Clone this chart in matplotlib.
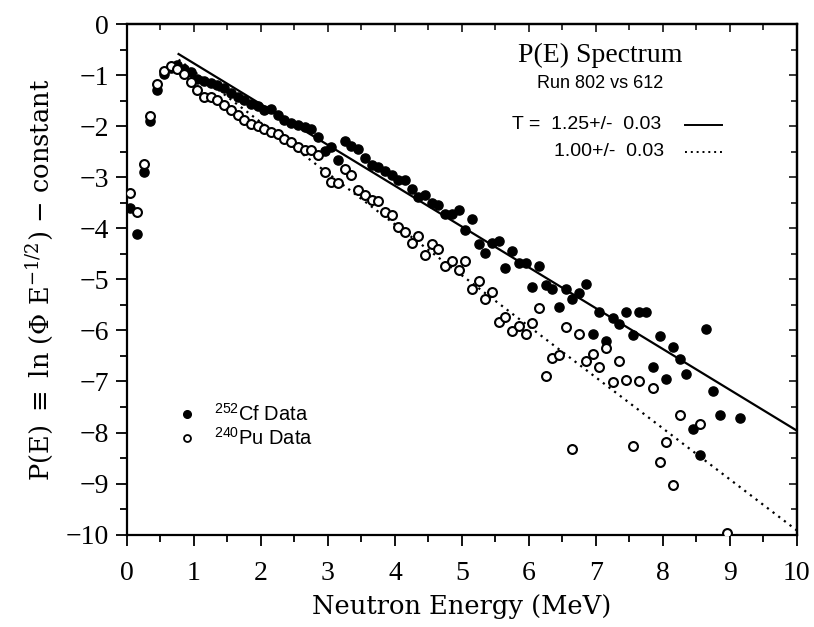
import numpy as np
import matplotlib

matplotlib.use("Agg")
import matplotlib.pyplot as plt
from matplotlib.ticker import MultipleLocator

plt.rcParams["mathtext.default"] = "regular"
plt.rcParams["mathtext.fontset"] = "dejavuserif"

SERIF = "Liberation Serif"
WIDE_SERIF = "DejaVu Serif"
SANS = "Liberation Sans"

# 252Cf data, 0.1 MeV bins
cf_energy = [
    0.05, 0.15, 0.25, 0.35, 0.45, 0.55, 0.65, 0.75, 0.85, 0.95,
    1.05, 1.15, 1.25, 1.35, 1.45, 1.55, 1.65, 1.75, 1.85, 1.95,
    2.05, 2.15, 2.25, 2.35, 2.45, 2.55, 2.65, 2.75, 2.85, 2.95,
    3.05, 3.15, 3.25, 3.35, 3.45, 3.55, 3.65, 3.75, 3.85, 3.95,
    4.05, 4.15, 4.25, 4.35, 4.45, 4.55, 4.65, 4.75, 4.85, 4.95,
    5.05, 5.15, 5.25, 5.35, 5.45, 5.55, 5.65, 5.75, 5.85, 5.95,
    6.05, 6.15, 6.25, 6.35, 6.45, 6.55, 6.65, 6.75, 6.85, 6.95,
    7.05, 7.15, 7.25, 7.35, 7.45, 7.55, 7.65, 7.75, 7.85, 7.95,
    8.05, 8.15, 8.25, 8.35, 8.45, 8.55, 8.65, 8.75, 8.85, 9.15,
]
cf_p = [
    -3.59, -4.11, -2.89, -1.89, -1.28, -0.98, -0.86, -0.80, -0.87, -0.94,
    -1.07, -1.11, -1.14, -1.19, -1.25, -1.35, -1.42, -1.48, -1.55, -1.59,
    -1.68, -1.66, -1.77, -1.87, -1.94, -1.97, -2.02, -2.05, -2.20, -2.49,
    -2.40, -2.66, -2.29, -2.38, -2.44, -2.62, -2.75, -2.79, -2.87, -2.95,
    -3.05, -3.04, -3.23, -3.38, -3.34, -3.51, -3.53, -3.72, -3.72, -3.64,
    -4.03, -3.81, -4.31, -4.49, -4.29, -4.25, -4.78, -4.45, -4.67, -4.67,
    -5.15, -4.73, -5.11, -5.19, -5.53, -5.19, -5.39, -5.26, -5.09, -6.07,
    -5.64, -6.20, -5.75, -5.88, -5.64, -6.08, -5.63, -5.63, -6.72, -6.11,
    -6.95, -6.32, -6.55, -6.85, -7.93, -8.44, -5.97, -7.19, -7.66, -7.72,
]

# 240Pu data
pu_energy = [
    0.05, 0.15, 0.25, 0.35, 0.45, 0.55, 0.65, 0.75, 0.85, 0.95,
    1.05, 1.15, 1.25, 1.35, 1.45, 1.55, 1.65, 1.75, 1.85, 1.95,
    2.05, 2.15, 2.25, 2.35, 2.45, 2.55, 2.65, 2.75, 2.85, 2.95,
    3.05, 3.15, 3.25, 3.35, 3.45, 3.55, 3.65, 3.75, 3.85, 3.95,
    4.05, 4.15, 4.25, 4.35, 4.45, 4.55, 4.65, 4.75, 4.85, 4.95,
    5.05, 5.15, 5.25, 5.35, 5.45, 5.55, 5.65, 5.75, 5.85, 5.95,
    6.05, 6.15, 6.25, 6.35, 6.45, 6.55, 6.65, 6.75, 6.85, 6.95,
    7.05, 7.15, 7.25, 7.35, 7.45, 7.55, 7.65, 7.85, 7.95, 8.05,
    8.15, 8.25, 8.55, 8.95,
]
pu_p = [
    -3.31, -3.67, -2.74, -1.79, -1.16, -0.91, -0.81, -0.88, -0.98, -1.12,
    -1.28, -1.43, -1.43, -1.48, -1.58, -1.68, -1.77, -1.87, -1.95, -2.00,
    -2.04, -2.11, -2.15, -2.25, -2.30, -2.40, -2.46, -2.46, -2.56, -2.89,
    -3.09, -3.11, -2.84, -2.95, -3.25, -3.34, -3.45, -3.47, -3.67, -3.73,
    -3.98, -4.06, -4.28, -4.15, -4.52, -4.31, -4.41, -4.74, -4.64, -4.81,
    -4.63, -5.18, -5.03, -5.39, -5.24, -5.84, -5.74, -6.01, -5.91, -6.06,
    -5.85, -5.55, -6.90, -6.53, -6.48, -5.93, -8.32, -6.06, -6.59, -6.46,
    -6.72, -6.35, -7.01, -6.59, -6.98, -8.26, -6.99, -7.12, -8.57, -8.19,
    -9.03, -7.66, -7.84, -9.97,
]

# Maxwellian fits: P(E) = offset - E / T
fit_range = [0.77, 10.0]
cf_temp, cf_offset = 1.25, 0.036
pu_temp, pu_offset = 1.00, 0.08


def fit_line(temp, offset):
    e = np.array(fit_range)
    return e, offset - e / temp


def set_ticks(axis):
    axis.set_major_locator(MultipleLocator(1))
    axis.set_minor_locator(MultipleLocator(0.5))


fig = plt.figure(figsize=(8.14, 6.27), dpi=100)
ax = fig.add_axes([0.156, 0.1475, 0.823, 0.8135])

e, p = fit_line(cf_temp, cf_offset)
ax.plot(e, p, color="black", linewidth=1.6, zorder=2)
e, p = fit_line(pu_temp, pu_offset)
ax.plot(e, p, color="black", linewidth=1.6, linestyle=(0, (1, 2.2)), zorder=2)

ax.plot(cf_energy, cf_p, "o", color="black", markersize=6.6, zorder=3)
ax.plot(pu_energy, pu_p, "o", markerfacecolor="white", markeredgecolor="black",
        markeredgewidth=1.5, markersize=6.4, zorder=4)

ax.set_xlim(0, 10)
ax.set_ylim(-10, 0)
set_ticks(ax.xaxis)
set_ticks(ax.yaxis)
ax.tick_params(which="both", direction="out", width=1.3)
ax.tick_params(which="major", length=8, labelsize=20)
ax.tick_params(axis="x", which="major", pad=11)
ax.tick_params(axis="y", which="major", pad=5)
ax.tick_params(which="minor", length=5)
for lab in ax.get_xticklabels() + ax.get_yticklabels():
    lab.set_family(SERIF)
for spine in ax.spines.values():
    spine.set_linewidth(1.6)

# inward ticks on top and right
top_ax = ax.secondary_xaxis("top")
right_ax = ax.secondary_yaxis("right")
set_ticks(top_ax.xaxis)
set_ticks(right_ax.yaxis)
for sec in (top_ax, right_ax):
    sec.tick_params(which="both", direction="in", width=1.1, labelleft=False,
                    labelright=False, labeltop=False, labelbottom=False)
    sec.tick_params(which="major", length=6)
    sec.tick_params(which="minor", length=4)
    for spine in sec.spines.values():
        spine.set_linewidth(1.6)

ax.set_xlabel("Neutron Energy (MeV)", fontsize=18.5, family=WIDE_SERIF,
              labelpad=6)
ax.set_ylabel(r"P(E) $\equiv$ ln ($\Phi$ E$^{-1/2}$) $-$ constant",
              fontsize=18.5, family=WIDE_SERIF, labelpad=8)

# annotation block
ax.text(7.06, -0.6, "P(E) Spectrum", fontsize=20, family=SERIF,
        ha="center", va="center")
ax.text(7.06, -1.15, "Run 802 vs 612", fontsize=13, family=SANS,
        ha="center", va="center")
ax.text(5.75, -1.97, f"T =  {cf_temp:.2f}+/-  0.03", fontsize=14, family=SANS,
        ha="left", va="center")
ax.text(6.37, -2.5, f"{pu_temp:.2f}+/-  0.03", fontsize=14, family=SANS,
        ha="left", va="center")
ax.plot([8.33, 8.88], [-1.97, -1.97], color="black", linewidth=1.4)
ax.plot([8.33, 8.88], [-2.5, -2.5], color="black", linewidth=1.4,
        linestyle=(0, (1, 2)))

# legend
ax.plot([0.9], [-7.64], "o", color="black", markersize=5.5)
ax.plot([0.9], [-8.11], "o", markerfacecolor="white", markeredgecolor="black",
        markeredgewidth=1.3, markersize=5)
ax.text(1.3, -7.64, r"$^{252}$Cf Data", fontsize=14.5, family=SANS, va="center")
ax.text(1.3, -8.11, r"$^{240}$Pu Data", fontsize=14.5, family=SANS, va="center")

fig.savefig("out.png", dpi=100)
